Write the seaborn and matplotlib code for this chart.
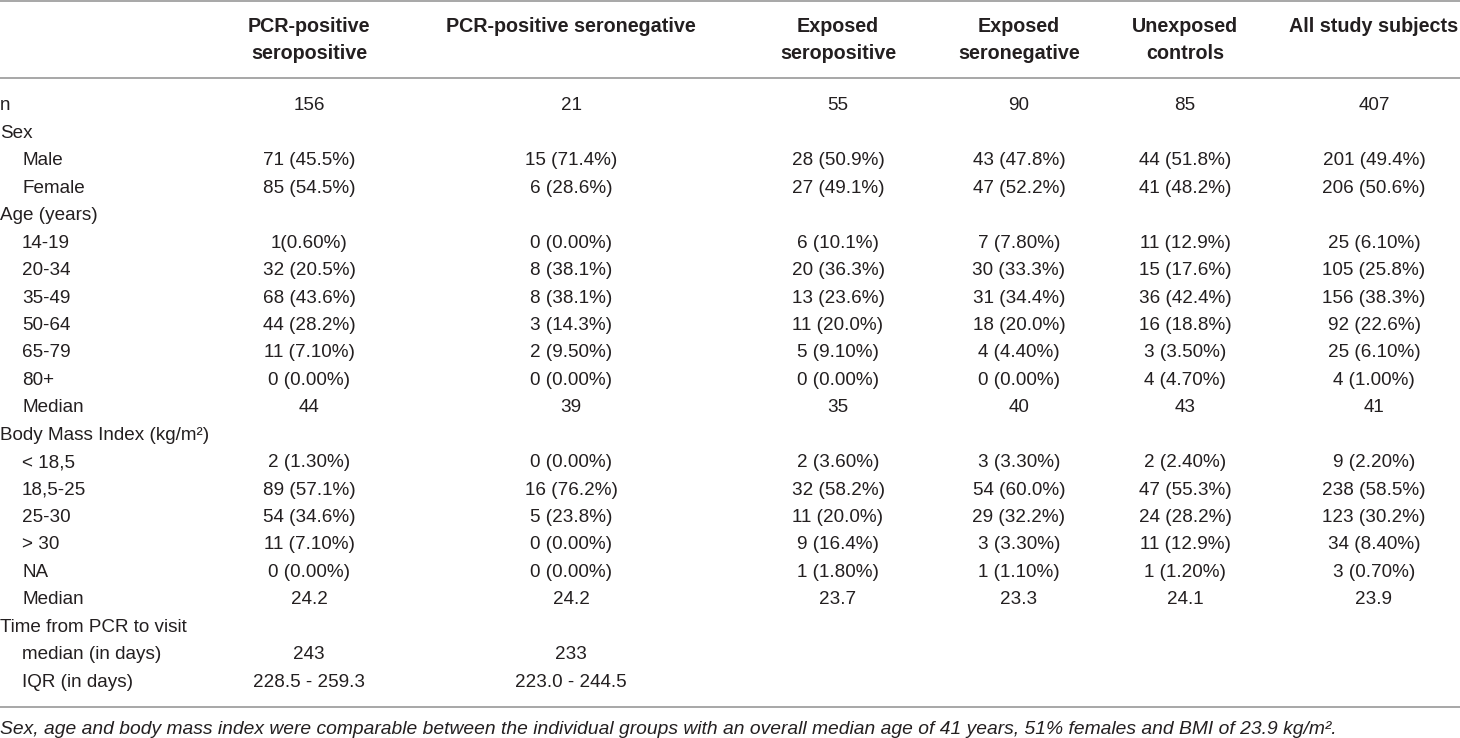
import matplotlib
matplotlib.use("Agg")
import matplotlib.pyplot as plt
import seaborn as sns
import pandas as pd

# table content
headers = ["PCR-positive\nseropositive", "PCR-positive seronegative", "Exposed\nseropositive",
           "Exposed\nseronegative", "Unexposed\ncontrols", "All study subjects"]

row_labels = ["n", "Sex", "Male", "Female", "Age (years)", "14-19", "20-34", "35-49", "50-64",
              "65-79", "80+", "Median", "Body Mass Index (kg/m²)", "< 18,5", "18,5-25", "25-30",
              "> 30", "NA", "Median", "Time from PCR to visit", "median (in days)", "IQR (in days)"]
indented = [0, 0, 1, 1, 0, 1, 1, 1, 1, 1, 1, 1, 0, 1, 1, 1, 1, 1, 1, 0, 1, 1]

pcr_seropos = ["156", "", "71 (45.5%)", "85 (54.5%)", "", "1(0.60%)", "32 (20.5%)", "68 (43.6%)",
               "44 (28.2%)", "11 (7.10%)", "0 (0.00%)", "44", "", "2 (1.30%)", "89 (57.1%)",
               "54 (34.6%)", "11 (7.10%)", "0 (0.00%)", "24.2", "", "243", "228.5 - 259.3"]
pcr_seroneg = ["21", "", "15 (71.4%)", "6 (28.6%)", "", "0 (0.00%)", "8 (38.1%)", "8 (38.1%)",
               "3 (14.3%)", "2 (9.50%)", "0 (0.00%)", "39", "", "0 (0.00%)", "16 (76.2%)",
               "5 (23.8%)", "0 (0.00%)", "0 (0.00%)", "24.2", "", "233", "223.0 - 244.5"]
exp_seropos = ["55", "", "28 (50.9%)", "27 (49.1%)", "", "6 (10.1%)", "20 (36.3%)", "13 (23.6%)",
               "11 (20.0%)", "5 (9.10%)", "0 (0.00%)", "35", "", "2 (3.60%)", "32 (58.2%)",
               "11 (20.0%)", "9 (16.4%)", "1 (1.80%)", "23.7", "", "", ""]
exp_seroneg = ["90", "", "43 (47.8%)", "47 (52.2%)", "", "7 (7.80%)", "30 (33.3%)", "31 (34.4%)",
               "18 (20.0%)", "4 (4.40%)", "0 (0.00%)", "40", "", "3 (3.30%)", "54 (60.0%)",
               "29 (32.2%)", "3 (3.30%)", "1 (1.10%)", "23.3", "", "", ""]
unexposed = ["85", "", "44 (51.8%)", "41 (48.2%)", "", "11 (12.9%)", "15 (17.6%)", "36 (42.4%)",
             "16 (18.8%)", "3 (3.50%)", "4 (4.70%)", "43", "", "2 (2.40%)", "47 (55.3%)",
             "24 (28.2%)", "11 (12.9%)", "1 (1.20%)", "24.1", "", "", ""]
all_subjects = ["407", "", "201 (49.4%)", "206 (50.6%)", "", "25 (6.10%)", "105 (25.8%)",
                "156 (38.3%)", "92 (22.6%)", "25 (6.10%)", "4 (1.00%)", "41", "", "9 (2.20%)",
                "238 (58.5%)", "123 (30.2%)", "34 (8.40%)", "3 (0.70%)", "23.9", "", "", ""]

footnote = ("Sex, age and body mass index were comparable between the individual groups with an "
            "overall median age of 41 years, 51% females and BMI of 23.9 kg/m².")

df = pd.DataFrame({h: col for h, col in zip(headers, [pcr_seropos, pcr_seroneg, exp_seropos,
                                                      exp_seroneg, unexposed, all_subjects])})
df.index = row_labels

sns.set_theme(style="white")
plt.rcParams["font.family"] = ["Liberation Sans", "DejaVu Sans"]

TXT = "#231f20"
RULE = "#a0a0a0"
FS = 13.6      # body text
FS_HEAD = 14.2
FS_NOTE = 13.9

# layout in pixel units
col_x = [309, 571, 838, 1019, 1185, 1374]
row_y0, row_dy = 106, 27.43

fig = plt.figure(figsize=(14.6, 7.38), dpi=100)
ax = fig.add_axes([0, 0, 1, 1])
ax.set_xlim(0, 1460)
ax.set_ylim(738, 0)
ax.axis("off")

# rules
for y in (1, 78, 707):
    ax.axhline(y, color=RULE, lw=1.3)

# header
for x, h in zip(col_x, df.columns):
    for k, line in enumerate(h.split("\n")):
        ax.text(x, 27 + k * 26.5, line, ha="center", va="center", fontsize=FS_HEAD,
                fontweight="bold", color=TXT)

# body
for i, (label, row) in enumerate(df.iterrows()):
    y = row_y0 + i * row_dy
    ax.text(22 if indented[i] else 0, y, label, ha="left", va="center", fontsize=FS, color=TXT)
    for x, val in zip(col_x, row.values):
        if val:
            ax.text(x, y, val, ha="center", va="center", fontsize=FS, color=TXT)

ax.text(0, 729, footnote, ha="left", va="center", fontsize=FS_NOTE, style="italic", color=TXT)

fig.savefig("out.png", dpi=100)
